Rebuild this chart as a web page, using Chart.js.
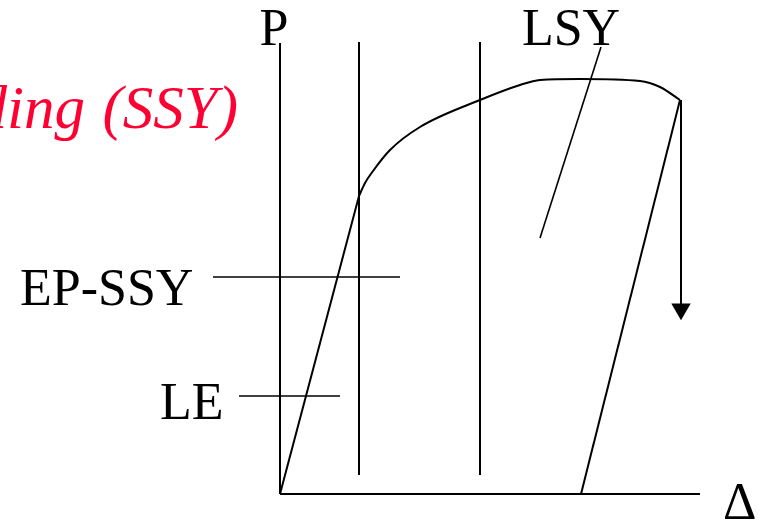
<!DOCTYPE html>
<html>
<head>
<meta charset="utf-8">
<title>Load - displacement: LE, EP-SSY, LSY</title>
<script src="https://cdn.jsdelivr.net/npm/chart.js@4.4.1/dist/chart.umd.min.js"></script>
<style>
  html, body { margin: 0; padding: 0; background: #fff; overflow: hidden; }
  #wrap { width: 758px; height: 519px; }
</style>
</head>
<body>
<div id="wrap"><canvas id="chart" width="758" height="519"></canvas></div>
<script>
// schematic P - Delta curve, arbitrary units (origin at the axes corner)
const elasticX = [0, 7.9];
const elasticP = [0, 29.8];

const plasticX = [7.9, 8.5, 9.3, 11, 14, 20, 24, 26, 30, 36, 38, 40];
const plasticP = [29.8, 31.1, 32.3, 34.4, 36.7, 39.4, 40.9, 41.4, 41.5, 41.3, 40.7, 39.4];

const unloadX = [40, 30.1];
const unloadP = [39.4, 0];

// load drop arrow after the peak
const dropX = [40.1, 40.1];
const dropP = [39.4, 18.5];

// region boundaries (LE | EP-SSY | LSY)
const boundaryX = [7.9, 20];
const boundaryP = [1.9, 45.2];

const axisXMax = 42;
const axisPMax = 45.1;

// leader lines from labels into regions
const leaderLSY = { x: [32.1, 26], p: [44.7, 25.6] };
const leaderEP = { x: [-6.7, 12], p: [21.7, 21.7] };
const leaderLE = { x: [-4.1, 6], p: [9.8, 9.8] };

const toPts = (xs, ys) => xs.map((x, i) => ({ x: x, y: ys[i] }));

const lineSet = (xs, ys, extra) => Object.assign({
  data: toPts(xs, ys),
  showLine: true,
  borderColor: '#000',
  backgroundColor: '#000',
  borderWidth: 2,
  pointRadius: 0,
  pointHoverRadius: 0,
  tension: 0
}, extra || {});

const datasets = [
  lineSet([0, 0], [0, axisPMax]),
  lineSet([0, axisXMax], [0, 0]),
  lineSet([boundaryX[0], boundaryX[0]], boundaryP),
  lineSet([boundaryX[1], boundaryX[1]], boundaryP),
  lineSet(elasticX, elasticP),
  lineSet(plasticX, plasticP, { cubicInterpolationMode: 'monotone' }),
  lineSet(unloadX, unloadP),
  lineSet(dropX, dropP, { pointRadius: [0, 9.2], pointStyle: 'triangle', rotation: 180 }),
  lineSet(leaderLSY.x, leaderLSY.p, { borderWidth: 1.6 }),
  lineSet(leaderEP.x, leaderEP.p, { borderWidth: 1.6 }),
  lineSet(leaderLE.x, leaderLE.p, { borderWidth: 1.6 })
];

// text labels drawn at value positions
const labels = [
  { text: 'P', x: -0.6, p: 44.9, align: 'center' },
  { text: 'LSY', x: 29.1, p: 44.9, align: 'center' },
  { text: 'EP-SSY', x: -26, p: 18.9, align: 'left' },
  { text: 'LE', x: -12, p: 7.5, align: 'left' },
  { text: 'Δ', x: 44.3, p: -2.5, align: 'left' }
];

const textPlugin = {
  id: 'textLabels',
  afterDatasetsDraw(chart) {
    const ctx = chart.ctx;
    const xs = chart.scales.x, ys = chart.scales.y;
    ctx.save();
    ctx.fillStyle = '#000';
    ctx.font = '52px "Liberation Serif", "Times New Roman", serif';
    ctx.textBaseline = 'alphabetic';
    labels.forEach(l => {
      ctx.textAlign = l.align;
      ctx.fillText(l.text, xs.getPixelForValue(l.x), ys.getPixelForValue(l.p));
    });
    // red title, cut off at the left edge
    ctx.fillStyle = '#ff0033';
    ctx.font = 'italic 61px "Liberation Serif", "Times New Roman", serif';
    ctx.textAlign = 'right';
    const base = ys.getPixelForValue(36.6);
    ctx.fillText('(SSY)', xs.getPixelForValue(-4.2), base);
    ctx.fillText('Small Scale Yielding', xs.getPixelForValue(-19.5), base);
    ctx.restore();
  }
};

new Chart(document.getElementById('chart'), {
  type: 'scatter',
  data: { datasets: datasets },
  options: {
    responsive: false,
    animation: false,
    events: [],
    layout: { padding: 0, autoPadding: false },
    plugins: { legend: { display: false }, tooltip: { enabled: false } },
    scales: {
      x: { type: 'linear', display: false, min: -28, max: 47.8 },
      y: { type: 'linear', display: false, min: -2.5, max: 49.4 }
    }
  },
  plugins: [textPlugin]
});
</script>
</body>
</html>
